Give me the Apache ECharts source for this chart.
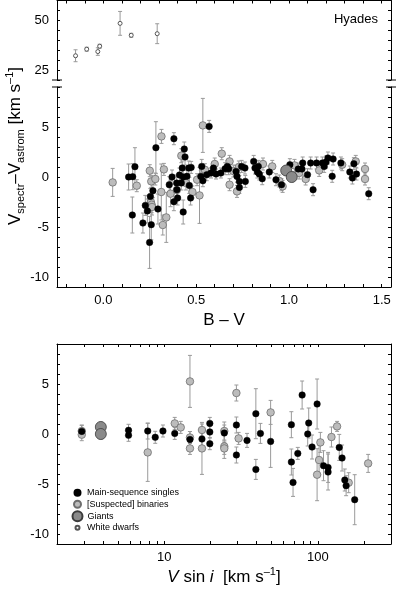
<!DOCTYPE html>
<html>
<head>
<meta charset="utf-8">
<script src="https://cdn.jsdelivr.net/npm/echarts@6/dist/echarts.min.js"></script>
<style>
  html, body { margin: 0; padding: 0; background: #fff; }
  #chart { width: 397px; height: 591px; }
</style>
</head>
<body>
<div id="chart"></div>
<script>
// top panel: white dwarfs (B-V, Vspectr-Vastrom, error)
const wdBV  = [-0.15, -0.09, -0.03, -0.02, 0.09, 0.15, 0.29];
const wdDV  = [32.2, 35.5, 34.3, 37.0, 48.5, 42.5, 43.3];
const wdErr = [3.0, 1.0, 1.9, 1.0, 6.0, 1.0, 5.0];

// middle panel: main-sequence singles
const msBV = [0.136, 0.158, 0.17, 0.156, 0.38, 0.283, 0.267, 0.355, 0.40, 0.38, 0.253, 0.226, 0.237, 0.294,
  0.213, 0.258, 0.249, 0.43, 0.425, 0.43, 0.41, 0.436, 0.44, 0.37, 0.395, 0.396, 0.46, 0.47, 0.473, 0.45,
  0.42, 0.463, 0.53, 0.525, 0.536, 0.557, 0.57, 0.58, 0.593, 0.607, 0.633, 0.656, 0.668, 0.675, 0.715,
  0.72, 0.733, 0.733, 0.745, 0.763, 0.765, 0.81, 0.817, 0.835, 0.83, 0.84, 0.856, 0.894, 0.93, 0.96,
  1.005, 1.05, 1.07, 1.074, 1.10, 1.117, 1.13, 1.149, 1.18, 1.19, 1.2, 1.21, 1.238, 1.233, 1.28, 1.328,
  1.35, 1.342, 1.364, 1.43];
const msDV = [0.0, 0.03, 1.03, -3.8, 3.83, 2.93, -1.37, -0.77, -2.1, -2.47, -1.94, -2.84, -3.4, -3.2,
  -4.6, -4.77, -6.54, -3.5, 0.9, 0.0, 0.2, 2.8, 2.0, 0.0, -0.6, -1.27, 0.9, -2.1, 0.96, 0.07,
  -0.6, -0.84, 1.06, 0.06, -0.37, 0.23, 5.06, 0.4, 0.9, 0.3, 0.4, 0.83, 1.06, 0.83, 0.56,
  0.06, -0.44, -1.04, 1.06, 0.9, -0.44, 1.56, 0.9, 1.06, 0.5, 0.3, -0.17, 0.5, -0.27, -0.77,
  1.23, 0.8, 0.8, 1.4, 0.23, 1.4, -1.27, 1.4, 1.4, 1.06, 1.5, 1.9, 1.8, 0.07, 1.4, 0.5,
  1.33, -0.1, 0.3, -1.67];
const msErr = [1.3, 1.3, 1.9, 1.8, 0.6, 2.6, 0.7, 0.8, 0.7, 0.9, 0.8, 1.0, 1.2, 1.5,
  1.0, 1.5, 2.6, 1.2, 0.7, 0.7, 0.7, 0.7, 0.8, 0.7, 0.8, 0.8, 0.7, 0.7, 0.6, 0.6,
  0.7, 0.8, 0.7, 0.6, 0.6, 0.6, 0.6, 0.5, 0.5, 0.5, 0.5, 0.6, 0.6, 0.6, 0.6,
  0.6, 0.6, 0.6, 0.6, 0.6, 0.6, 0.6, 0.6, 0.6, 0.6, 0.6, 0.6, 0.6, 0.6, 0.6,
  0.6, 0.6, 0.6, 0.6, 0.6, 0.6, 0.6, 0.6, 0.6, 0.6, 0.6, 0.6, 0.6, 0.6, 0.6, 0.6,
  0.6, 0.6, 0.6, 0.6];

// middle panel: (suspected) binaries
const binBV = [0.05, 0.18, 0.313, 0.25, 0.326, 0.258, 0.28, 0.312, 0.362, 0.396, 0.256, 0.26, 0.262, 0.32,
  0.339, 0.42, 0.445, 0.48, 0.518, 0.536, 0.505, 0.547, 0.6, 0.638, 0.68, 0.68, 0.70, 0.72, 0.73,
  0.86, 0.91, 0.948, 0.966, 1.03, 1.055, 1.09, 1.163, 1.287, 1.36, 1.41, 1.41];
const binDV = [-0.54, -0.87, 4.06, 0.63, 0.76, -0.44, -0.2, -1.5, -1.67, -1.3, -2.5, -2.77, -3.0, -4.8,
  -4.04, 2.13, -0.6, -1.5, -1.84, 5.16, -0.27, 0.73, 1.3, 2.33, 1.56, -0.77, 0.6, -1.44, 1.0,
  1.3, 1.06, -0.4, -0.94, 1.16, 0.4, -0.2, 0.66, 1.23, 1.56, 0.8, -0.2];
const binErr = [1.4, 0.6, 0.7, 0.6, 0.6, 0.6, 0.6, 2.8, 1.3, 0.8, 0.7, 0.8, 0.8, 1.0,
  2.5, 0.7, 0.7, 0.6, 2.8, 2.7, 0.6, 0.6, 0.6, 0.6, 0.6, 0.6, 0.6, 0.6, 0.6,
  0.6, 0.6, 0.6, 0.6, 0.6, 0.6, 0.6, 0.6, 0.6, 0.6, 0.6, 0.6];

// middle panel: giants
const gBV  = [0.985, 1.015];
const gDV  = [0.65, 0.0];
const gErr = [0.5, 0.5];

// bottom panel: V sin i for the same classes
const msVsini = [2.9, 5.85, 5.85, 7.8, 8.73, 9.8, 11.7, 14.7, 17.6, 19.8, 19.8, 19.8, 24.6, 29.5, 29.5,
  34.6, 39.5, 39.5, 42.3, 49.3, 67.3, 67.3, 69, 74.1, 79.1, 87.3, 86, 91.8, 99, 109, 116.7, 116.7,
  138, 144, 150, 153, 174];
const msVDV = [0.26, 0.37, -0.13, 0.3, -0.33, 0.3, 0.06, -0.55, -0.5, 1.06, 0.2, -0.97, 0.1, 0.9, -2.1,
  -0.64, 2.03, -3.54, 0.06, -0.74, 0.93, -2.8, -4.84, -1.94, 3.9, 1.1, 0.0, -1.3, 3.0, -3.17, -3.34, -3.8,
  -1.34, -2.4, -4.6, -5.17, -6.57];
const msVErr = [0.6, 0.6, 0.6, 0.8, 0.6, 0.6, 0.6, 0.8, 0.8, 0.6, 0.6, 0.6, 0.8, 0.8, 0.8,
  0.7, 2.5, 1.0, 1.0, 2.6, 1.3, 1.3, 1.4, 0.6, 1.4, 1.5, 1.2, 1.2, 2.5, 1.5, 1.5, 1.8,
  1.3, 1.3, 1.1, 1.0, 2.5];

const binVsini = [2.9, 2.9, 7.8, 11.7, 12.8, 14.7, 14.7, 14.7, 17.6, 17.6, 24.6, 24.6, 24.6, 29.5, 30.5,
  49.3, 104, 102, 99, 122.8, 133.6, 159, 213];
const binVDV = [0.3, -0.07, -1.84, 1.06, 0.66, 5.26, -0.35, -1.44, 0.4, -1.44, 0.3, -1.24, -1.44, 4.1, -0.44,
  2.16, -0.84, -2.6, -4.07, -0.3, 0.76, -4.87, -2.94];
const binVErr = [0.6, 0.6, 2.9, 0.6, 0.6, 2.6, 0.6, 0.6, 0.6, 2.6, 0.9, 1.2, 0.6, 0.8, 0.6,
  1.2, 1.0, 1.5, 2.6, 1.0, 0.5, 1.0, 0.9];

const gVsini = [3.86, 3.86];
const gVDV   = [0.7, 0.0];
const gVErr  = [0.5, 0.5];

// axis ticks / labels
const bvTicks = [-0.2, -0.1, 0.0, 0.1, 0.2, 0.3, 0.4, 0.5, 0.6, 0.7, 0.8, 0.9, 1.0, 1.1, 1.2, 1.3, 1.4, 1.5];
const bvLabels = [0.0, 0.5, 1.0, 1.5];
const vsTicks = [2, 3, 4, 5, 6, 7, 8, 9, 10, 20, 30, 40, 50, 60, 70, 80, 90, 100, 200, 300];
const vsLabels = [10, 100];

const FONT = 'Liberation Sans';
const NAMES = ['Main-sequence singles', '[Suspected] binaries', 'Giants', 'White dwarfs'];

function zip(a, b, c) {
  return a.map((v, i) => [v, b[i], c[i]]);
}

function errBars(xi, yi, data) {
  return {
    type: 'custom',
    xAxisIndex: xi,
    yAxisIndex: yi,
    silent: true,
    z: 1,
    data: data,
    encode: { x: 0, y: 1 },
    renderItem: function (params, api) {
      const x = api.value(0), y = api.value(1), e = api.value(2);
      const hi = api.coord([x, y + e]);
      const lo = api.coord([x, y - e]);
      const st = { stroke: '#9a9a9a', lineWidth: 1 };
      return {
        type: 'group',
        children: [
          { type: 'line', shape: { x1: hi[0], y1: hi[1], x2: lo[0], y2: lo[1] }, style: st },
          { type: 'line', shape: { x1: hi[0] - 2, y1: hi[1], x2: hi[0] + 2, y2: hi[1] }, style: st },
          { type: 'line', shape: { x1: lo[0] - 2, y1: lo[1], x2: lo[0] + 2, y2: lo[1] }, style: st }
        ]
      };
    }
  };
}

const styles = {
  'Main-sequence singles': { size: 6.5, itemStyle: { color: '#000', borderColor: '#000', borderWidth: 0.5, opacity: 1 } },
  '[Suspected] binaries': { size: 7.5, itemStyle: { color: '#bcbcbc', borderColor: '#6e6e6e', borderWidth: 0.8, opacity: 1 } },
  'Giants': { size: 11, itemStyle: { color: '#8a8a8a', borderColor: '#3c3c3c', borderWidth: 0.8, opacity: 1 } },
  'White dwarfs': { size: 4, itemStyle: { color: '#fff', borderColor: '#555', borderWidth: 1, opacity: 1 } }
};

function dots(name, xi, yi, data) {
  return {
    type: 'scatter',
    name: name,
    xAxisIndex: xi,
    yAxisIndex: yi,
    z: 3,
    symbol: 'circle',
    symbolSize: styles[name].size,
    itemStyle: styles[name].itemStyle,
    data: data.map(d => [d[0], d[1]])
  };
}

const axisLine = { show: true, onZero: false, lineStyle: { color: '#000', width: 1 } };
const lbl = { color: '#000', fontFamily: FONT, fontSize: 13 };

function yLeft(grid, min, max, step, labelFn) {
  return {
    type: 'value', gridIndex: grid, position: 'left', min: min, max: max, interval: step,
    axisLine: axisLine,
    axisTick: { show: true, inside: true, length: 3, lineStyle: { color: '#000' } },
    axisLabel: Object.assign({ margin: 8, formatter: labelFn }, lbl),
    splitLine: { show: false }
  };
}
function yRight(grid, min, max, step) {
  return {
    type: 'value', gridIndex: grid, position: 'right', min: min, max: max, interval: step,
    axisLine: axisLine,
    axisTick: { show: true, inside: true, length: 3, lineStyle: { color: '#000' } },
    axisLabel: { show: false },
    splitLine: { show: false }
  };
}

const chart = echarts.init(document.getElementById('chart'), null, { renderer: 'canvas' });

const legendBox = (name, cy, w, padLeft) => ({
  data: [name],
  orient: 'vertical',
  left: 76.5 - w / 2,
  top: cy - 5.5,
  padding: 0,
  itemWidth: w,
  itemHeight: w,
  selectedMode: false,
  textStyle: { fontFamily: FONT, fontSize: 9, color: '#000', lineHeight: 11, padding: [0, 0, 0, padLeft] }
});

chart.setOption({
  animation: false,
  backgroundColor: '#fff',
  textStyle: { fontFamily: FONT },
  grid: [
    { left: 57, right: 6, top: 0.5, height: 79.5 },
    { left: 57, right: 6, top: 87, height: 200 },
    { left: 57, right: 6, top: 344, height: 200 }
  ],
  xAxis: [
    {
      type: 'value', gridIndex: 0, position: 'top', min: -0.25, max: 1.55,
      axisLine: axisLine,
      axisTick: { show: true, inside: true, length: 3, customValues: bvTicks, lineStyle: { color: '#000' } },
      axisLabel: { show: false },
      splitLine: { show: false }
    },
    {
      type: 'value', gridIndex: 1, position: 'bottom', min: -0.25, max: 1.55,
      axisLine: axisLine,
      axisTick: { show: true, inside: true, length: 3, customValues: bvTicks, lineStyle: { color: '#000' } },
      axisLabel: Object.assign({ margin: 7, customValues: bvLabels, formatter: v => v.toFixed(1) }, lbl),
      splitLine: { show: false }
    },
    {
      type: 'log', logBase: 10, gridIndex: 2, position: 'bottom', min: 2, max: 300,
      axisLine: axisLine,
      axisTick: { show: true, inside: true, length: 3, customValues: vsTicks, lineStyle: { color: '#000' } },
      axisLabel: Object.assign({ margin: 7, customValues: vsLabels, formatter: v => String(Math.round(v)) }, lbl),
      splitLine: { show: false }
    },
    {
      type: 'log', logBase: 10, gridIndex: 2, position: 'top', min: 2, max: 300,
      axisLine: axisLine,
      axisTick: { show: true, inside: true, length: 3, customValues: vsTicks, lineStyle: { color: '#000' } },
      axisLabel: { show: false },
      splitLine: { show: false }
    }
  ],
  yAxis: [
    yLeft(0, 20, 60, 5, v => (v % 25 === 0 ? String(v) : '')),
    yRight(0, 20, 60, 5),
    yLeft(1, -11, 9, 1, v => (v % 5 === 0 ? String(v) : '')),
    yRight(1, -11, 9, 1),
    yLeft(2, -11, 9, 1, v => (v % 5 === 0 ? String(v) : '')),
    yRight(2, -11, 9, 1)
  ],
  legend: [
    legendBox(NAMES[0], 492.7, 6, 1.5),
    legendBox(NAMES[1], 504.3, 7, 1),
    legendBox(NAMES[2], 515.7, 10, 0),
    legendBox(NAMES[3], 527.7, 4, 2.5)
  ],
  graphic: [
    // break caps between the top and middle panels
    { type: 'line', shape: { x1: 52, y1: 80, x2: 62, y2: 80 }, style: { stroke: '#000', lineWidth: 1 } },
    { type: 'line', shape: { x1: 52, y1: 87, x2: 62, y2: 87 }, style: { stroke: '#000', lineWidth: 1 } },
    { type: 'line', shape: { x1: 386, y1: 80, x2: 396, y2: 80 }, style: { stroke: '#000', lineWidth: 1 } },
    { type: 'line', shape: { x1: 386, y1: 87, x2: 396, y2: 87 }, style: { stroke: '#000', lineWidth: 1 } },
    {
      type: 'text', x: 356, y: 19,
      style: { text: 'Hyades', fontFamily: FONT, fontSize: 13, fill: '#000', align: 'center', verticalAlign: 'middle' }
    },
    {
      type: 'text', x: 224, y: 320,
      style: { text: 'B – V', fontFamily: FONT, fontSize: 17, fill: '#000', align: 'center', verticalAlign: 'middle' }
    },
    {
      type: 'text', x: 224, y: 577,
      style: {
        text: '{it|V} sin {it|i}  [km s{p|–1}]',
        fontFamily: FONT, fontSize: 17, fill: '#000', align: 'center', verticalAlign: 'middle',
        rich: {
          it: { fontFamily: FONT, fontSize: 17, fontStyle: 'italic', lineHeight: 22 },
          p: { fontFamily: FONT, fontSize: 11, verticalAlign: 'top', lineHeight: 8 }
        }
      }
    },
    {
      type: 'text', x: 15, y: 146, rotation: Math.PI / 2,
      style: {
        text: '{v|V}{s|spectr}{v|–V}{s|astrom}{v| [km s}{p|–1}{v|]}',
        fontFamily: FONT, fontSize: 17, fill: '#000', align: 'center', verticalAlign: 'middle',
        rich: {
          v: { fontFamily: FONT, fontSize: 17, lineHeight: 22 },
          s: { fontFamily: FONT, fontSize: 11, verticalAlign: 'bottom', lineHeight: 8 },
          p: { fontFamily: FONT, fontSize: 11, verticalAlign: 'top', lineHeight: 8 }
        }
      }
    }
  ],
  series: [
    errBars(0, 0, zip(wdBV, wdDV, wdErr)),
    dots(NAMES[3], 0, 0, zip(wdBV, wdDV, wdErr)),

    errBars(1, 2, zip(binBV, binDV, binErr)),
    errBars(1, 2, zip(msBV, msDV, msErr)),
    errBars(1, 2, zip(gBV, gDV, gErr)),
    dots(NAMES[1], 1, 2, zip(binBV, binDV, binErr)),
    dots(NAMES[0], 1, 2, zip(msBV, msDV, msErr)),
    dots(NAMES[2], 1, 2, zip(gBV, gDV, gErr)),

    errBars(2, 4, zip(binVsini, binVDV, binVErr)),
    errBars(2, 4, zip(msVsini, msVDV, msVErr)),
    errBars(2, 4, zip(gVsini, gVDV, gVErr)),
    dots(NAMES[1], 2, 4, zip(binVsini, binVDV, binVErr)),
    dots(NAMES[0], 2, 4, zip(msVsini, msVDV, msVErr)),
    dots(NAMES[2], 2, 4, zip(gVsini, gVDV, gVErr))
  ]
});
</script>
</body>
</html>
